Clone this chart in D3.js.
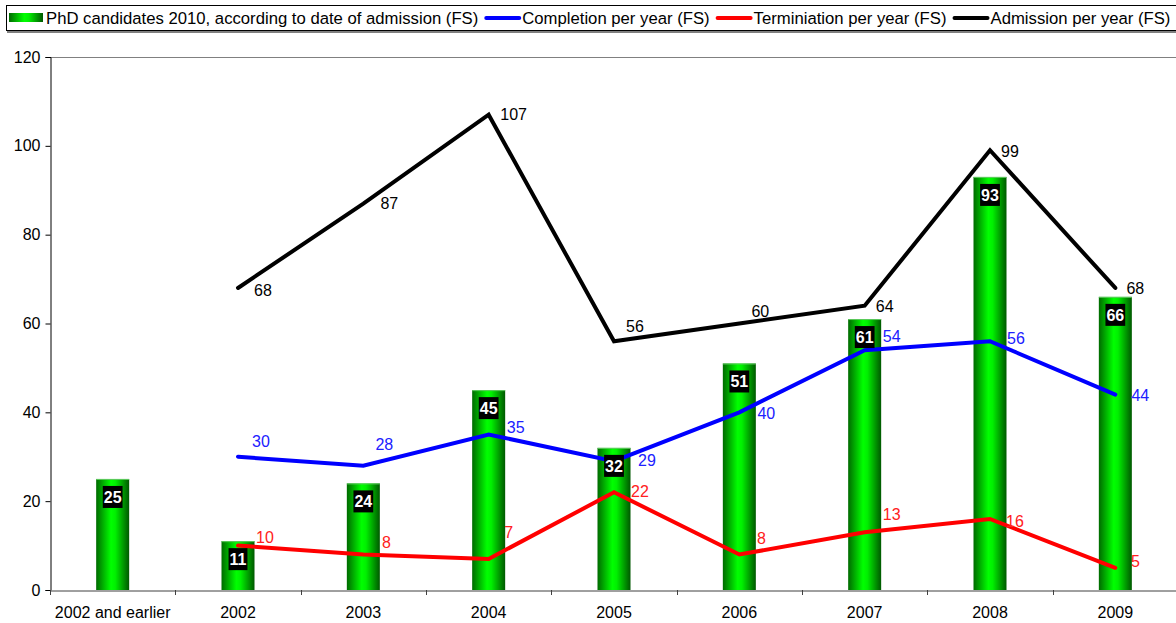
<!DOCTYPE html>
<html>
<head>
<meta charset="utf-8">
<script src="https://cdn.jsdelivr.net/npm/d3@7"></script>
<style>
  body { margin: 0; background: #fff; }
  svg { display: block; font-family: Arial, "Liberation Sans", sans-serif; }
</style>
</head>
<body>
<svg id="chart" width="1176" height="623"></svg>
<script>
// categories and values
var categories = ["2002 and earlier", "2002", "2003", "2004", "2005", "2006", "2007", "2008", "2009"];
var candidates = [25, 11, 24, 45, 32, 51, 61, 93, 66];
var completion = [null, 30, 28, 35, 29, 40, 54, 56, 44];
var termination = [null, 10, 8, 7, 22, 8, 13, 16, 5];
var admission = [null, 68, 87, 107, 56, 60, 64, 99, 68];
var yTicks = [0, 20, 40, 60, 80, 100, 120];
var legendNames = [
    "PhD candidates 2010, according to date of admission (FS)",
    "Completion per year (FS)",
    "Terminiation per year (FS)",
    "Admission per year (FS)"
];

// label nudges (px from point), as placed in the original
var completionNudge = [null, [23, -15], [21, -21], [27, -7], [33, -1], [27, 1], [27, -14], [26, -3], [25, 1]];
var terminationNudge = [null, [27, -8], [23, -12], [20, -27], [26, -1], [22, -16], [27, -18], [25, 2], [20, -6]];
var admissionNudge = [null, [25, 2], [26, 0], [25, 0], [21, -15], [21, -12], [20, 1], [20, 1], [20, 0]];

var svg = d3.select("#chart");
var plotLeft = 50, plotRight = 1178, plotTop = 57, plotBottom = 590;

var x = d3.scaleBand().domain(categories).range([plotLeft, plotRight]).padding(0);
var y = d3.scaleLinear().domain([0, 120]).range([plotBottom, plotTop]);
var cx = function(i) { return x(categories[i]) + x.bandwidth() / 2; };

var defs = svg.append("defs");
var grad = defs.append("linearGradient").attr("id", "barGrad")
    .attr("x1", "0%").attr("x2", "100%").attr("y1", "0%").attr("y2", "0%");
grad.append("stop").attr("offset", "0%").attr("stop-color", "#006a00");
grad.append("stop").attr("offset", "45%").attr("stop-color", "#00ff00");
grad.append("stop").attr("offset", "58%").attr("stop-color", "#00f000");
grad.append("stop").attr("offset", "100%").attr("stop-color", "#005800");

// plot frame top
svg.append("line")
    .attr("x1", plotLeft).attr("x2", 1176)
    .attr("y1", plotTop + 0.5).attr("y2", plotTop + 0.5)
    .attr("stroke", "#808080");

// y axis
var yAxis = svg.append("g")
    .attr("transform", "translate(" + (plotLeft + 0.5) + ",0)")
    .call(d3.axisLeft(y).tickValues(yTicks).tickSize(5).tickPadding(5));
yAxis.select(".domain").attr("stroke", "#000");
yAxis.selectAll("text").style("font-size", "16px").attr("fill", "#000");

// bars
var barW = 33;
var bars = svg.append("g");
bars.selectAll("rect.bar")
    .data(candidates)
    .enter().append("rect")
    .attr("class", "bar")
    .attr("x", function(d, i) { return cx(i) - barW / 2; })
    .attr("y", function(d) { return y(d); })
    .attr("width", barW)
    .attr("height", function(d) { return plotBottom - y(d); })
    .attr("fill", "url(#barGrad)");
bars.selectAll("line.cap")
    .data(candidates)
    .enter().append("line")
    .attr("class", "cap")
    .attr("x1", function(d, i) { return cx(i) - barW / 2; })
    .attr("x2", function(d, i) { return cx(i) + barW / 2; })
    .attr("y1", function(d) { return y(d) + 0.5; })
    .attr("y2", function(d) { return y(d) + 0.5; })
    .attr("stroke", "#5fc95f");

// x axis
var xAxis = svg.append("g")
    .attr("transform", "translate(0," + (plotBottom + 0.5) + ")")
    .call(d3.axisBottom(x).tickSize(0).tickPadding(16));
xAxis.select(".domain").attr("stroke", "#404040");
xAxis.selectAll("text").style("font-size", "16px").attr("fill", "#000");
var bounds = categories.map(function(c) { return x(c); }).concat([plotRight]);
svg.append("g").selectAll("line")
    .data(bounds)
    .enter().append("line")
    .attr("x1", function(d) { return Math.round(d) + 0.5; })
    .attr("x2", function(d) { return Math.round(d) + 0.5; })
    .attr("y1", plotBottom).attr("y2", plotBottom + 5)
    .attr("stroke", "#404040");

// lines
var line = d3.line()
    .defined(function(d) { return d.v != null; })
    .x(function(d) { return cx(d.i); })
    .y(function(d) { return y(d.v); });

function drawSeries(values, color, labelColor, nudge) {
    var pts = values.map(function(v, i) { return { v: v, i: i }; });
    svg.append("path")
        .datum(pts)
        .attr("fill", "none")
        .attr("stroke", color)
        .attr("stroke-width", 4)
        .attr("stroke-linejoin", "miter")
        .attr("stroke-linecap", "round")
        .attr("d", line);
    svg.append("g").selectAll("text")
        .data(pts.filter(function(d) { return d.v != null; }))
        .enter().append("text")
        .attr("x", function(d) { return cx(d.i) + nudge[d.i][0]; })
        .attr("y", function(d) { return y(d.v) + nudge[d.i][1]; })
        .attr("dy", "0.35em")
        .attr("text-anchor", "middle")
        .style("font-size", "16px")
        .attr("fill", labelColor)
        .text(function(d) { return d.v; });
}

drawSeries(admission, "#000", "#000", admissionNudge);
drawSeries(completion, "#0000ff", "#2020ff", completionNudge);
drawSeries(termination, "#ff0000", "#ff2020", terminationNudge);

// bar value labels: white on black
var barLabels = svg.append("g");
candidates.forEach(function(d, i) {
    var g = barLabels.append("g");
    var t = g.append("text")
        .attr("x", cx(i))
        .attr("y", y(d) + 18)
        .attr("dy", "0.36em")
        .attr("text-anchor", "middle")
        .style("font-size", "16px")
        .style("font-weight", "bold")
        .attr("fill", "#fff")
        .text(d);
    var w = t.node().getComputedTextLength() + 2;
    g.insert("rect", "text")
        .attr("x", cx(i) - w / 2)
        .attr("y", y(d) + 7)
        .attr("width", w)
        .attr("height", 22)
        .attr("fill", "#000");
});

// legend
var legend = svg.append("g");
legend.append("line")
    .attr("x1", 7).attr("x2", 1176).attr("y1", 32).attr("y2", 32)
    .attr("stroke", "#808080").attr("stroke-width", 2);
legend.append("rect")
    .attr("x", 6.5).attr("y", 5.5).attr("width", 1175).attr("height", 25)
    .attr("fill", "#fff").attr("stroke", "#000");

var swatchColors = ["bar", "#0000ff", "#ff0000", "#000"];
var lx = 9;
legendNames.forEach(function(name, i) {
    if (swatchColors[i] === "bar") {
        legend.append("rect")
            .attr("x", lx).attr("y", 13).attr("width", 34).attr("height", 9)
            .attr("fill", "url(#barGrad)");
    } else {
        legend.append("line")
            .attr("x1", lx + 1).attr("x2", lx + 34)
            .attr("y1", 18).attr("y2", 18)
            .attr("stroke", swatchColors[i]).attr("stroke-width", 4)
            .attr("stroke-linecap", "round");
    }
    var t = legend.append("text")
        .attr("x", lx + 37)
        .attr("y", 18)
        .attr("dy", "0.35em")
        .style("font-size", "16.7px")
        .attr("fill", "#000")
        .text(name);
    lx += 37 + t.node().getComputedTextLength() + 7;
});
</script>
</body>
</html>
